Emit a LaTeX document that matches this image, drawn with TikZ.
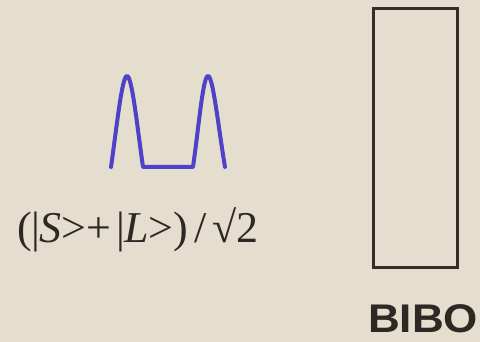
\documentclass[tikz,border=0pt]{standalone}
\usepackage{fontspec}
\setmainfont{Liberation Serif}
\newfontfamily\labelsans{Liberation Sans}
\definecolor{bgbeige}{RGB}{229,221,205}
\definecolor{wave}{RGB}{78,66,200}
\definecolor{ink}{RGB}{45,40,35}
\definecolor{boxline}{RGB}{55,45,38}
\begin{document}
\begin{tikzpicture}[x=1pt,y=-1pt,
  wavestyle/.style={draw=wave,line width=4pt,line join=round,line cap=round},
  boxstyle/.style={draw=boxline,line width=3pt},
  formula/.style={text=ink,inner sep=0pt,anchor=base west,text depth=0pt,font=\fontsize{44}{44}\selectfont},
  caption/.style={text=ink,inner sep=0pt,anchor=base,text depth=0pt,font=\labelsans\bfseries\fontsize{40}{40}\selectfont}]
\fill[bgbeige] (0,0) rectangle (480,342);
\useasboundingbox (0,0) rectangle (480,342);
% waveform
\draw[wavestyle] (111,167) .. controls (117,125) and (122,76) .. (127,76)
  .. controls (132,76) and (137,125) .. (143,167) -- (193,167)
  .. controls (199,125) and (203,76) .. (208,76)
  .. controls (213,76) and (218,125) .. (225,167);
% formula
\node[formula] (f) at (17,243) {(|\kern-1pt\textit{S}>+\hspace{5pt}|\kern-1pt\textit{L}>)\hspace{6pt}/\hspace{6pt}√2};
% box
\draw[boxstyle] (373,9) rectangle (457,268);
\node[caption,xscale=1.1] (bibo) at (423,333) {BIBO};
\end{tikzpicture}
\end{document}
